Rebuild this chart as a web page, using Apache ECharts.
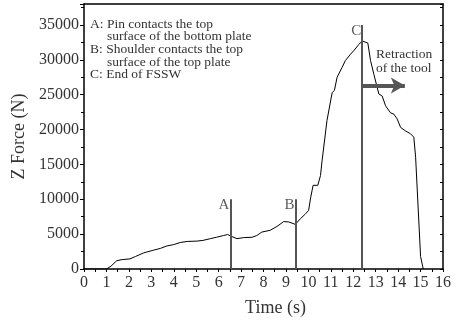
<!DOCTYPE html>
<html>
<head>
<meta charset="utf-8">
<script src="https://cdn.jsdelivr.net/npm/echarts@6/dist/echarts.min.js"></script>
<style>
  html, body { margin: 0; padding: 0; background: #fff; }
  #chart { width: 459px; height: 320px; }
</style>
</head>
<body>
<div id="chart"></div>
<script>
// time (s) and Z force (N)
var timeS = [0, 1.0, 1.2, 1.46, 1.7, 2.05, 2.3, 2.65, 3.1, 3.4, 3.69, 4.0, 4.29, 4.6, 5.03, 5.3, 5.63, 5.9, 6.22, 6.4, 6.52, 6.82, 7.11, 7.49, 7.7, 7.93, 8.3, 8.6, 8.9, 9.12, 9.42, 9.64, 9.87, 10.01, 10.1, 10.21, 10.42, 10.54, 10.61, 10.83, 11.06, 11.16, 11.28, 11.5, 11.65, 11.88, 12.02, 12.25, 12.4, 12.47, 12.65, 12.77, 12.92, 13.14, 13.29, 13.44, 13.66, 13.81, 13.96, 14.11, 14.33, 14.55, 14.7, 14.78, 15.0, 15.12]
var forceN = [0, 0, 400, 1190, 1350, 1450, 1800, 2300, 2700, 2950, 3300, 3500, 3800, 3950, 4000, 4100, 4350, 4550, 4800, 4950, 4750, 4350, 4500, 4550, 4800, 5300, 5550, 6100, 6800, 6750, 6400, 7200, 7900, 8400, 10200, 12000, 12000, 13400, 15500, 21300, 25300, 25600, 27500, 28900, 29900, 30800, 31300, 32200, 32700, 32700, 32400, 29900, 27900, 25100, 24800, 23400, 22400, 22200, 21500, 20300, 19800, 19400, 18900, 16000, 1800, 0]

// event markers A, B, C
var markerNames = ['A', 'B', 'C']
var markerTimes = [6.52, 9.43, 12.4]
var markerTops = [10000, 10000, 35000]

// retraction arrow
var arrowFrom = [12.4, 26300]
var arrowTo = [14.3, 26300]

var notes = [
  'A: Pin contacts the top',
  '     surface of the bottom plate',
  'B: Shoulder contacts the top',
  '     surface of the top plate',
  'C: End of FSSW'
]

var serif = 'Liberation Serif'
var txt = '#333'

var curve = timeS.map(function (t, i) { return [t, forceN[i]] })
var vlines = markerTimes.map(function (t, i) {
  return [{ coord: [t, 0] }, { coord: [t, markerTops[i]] }]
})
var labelPts = markerTimes.map(function (t, i) {
  return { name: markerNames[i], value: [t, markerTops[i]] }
})

var chart = echarts.init(document.getElementById('chart'))
var option = {
  animation: false,
  grid: { left: 84, right: 16, top: 4, bottom: 51, outerBoundsMode: 'none' },
  xAxis: [
    {
      type: 'value',
      min: 0,
      max: 16,
      interval: 1,
      name: 'Time (s)',
      nameLocation: 'middle',
      nameGap: 30,
      nameTextStyle: { fontFamily: serif, fontSize: 18, color: txt, padding: [0, 0, 0, 24] },
      axisLine: { lineStyle: { color: '#000', width: 1.5 } },
      axisTick: { length: 3, lineStyle: { color: '#000' } },
      minorTick: { show: true, splitNumber: 2, length: 3, lineStyle: { color: '#000' } },
      splitLine: { show: false },
      axisLabel: { fontFamily: serif, fontSize: 16, color: txt, margin: 6 }
    },
    {
      type: 'value',
      position: 'top',
      min: 0,
      max: 16,
      axisLine: { show: true, onZero: false, lineStyle: { color: '#000', width: 1.5 } },
      axisTick: { show: false },
      axisLabel: { show: false },
      splitLine: { show: false }
    }
  ],
  yAxis: [
    {
      type: 'value',
      min: 0,
      max: 38000,
      interval: 5000,
      name: 'Z Force (N)',
      nameLocation: 'middle',
      nameGap: 55,
      nameTextStyle: { fontFamily: serif, fontSize: 18, color: txt },
      axisLine: { show: true, lineStyle: { color: '#000', width: 1.5 } },
      axisTick: { show: true, length: 4, lineStyle: { color: '#000' } },
      minorTick: { show: true, splitNumber: 2, length: 3, lineStyle: { color: '#000' } },
      splitLine: { show: false },
      axisLabel: {
        fontFamily: serif, fontSize: 16, color: txt, margin: 5,
        formatter: function (v) { return v % 5000 === 0 ? String(v) : '' }
      }
    },
    {
      type: 'value',
      position: 'right',
      min: 0,
      max: 38000,
      interval: 2500,
      axisLine: { show: true, onZero: false, lineStyle: { color: '#000', width: 1.5 } },
      axisTick: { show: true, inside: true, length: 3, lineStyle: { color: '#000' } },
      axisLabel: { show: false },
      splitLine: { show: false }
    }
  ],
  series: [
    {
      type: 'line',
      data: curve,
      showSymbol: false,
      lineStyle: { color: '#000', width: 1 },
      markLine: {
        silent: true,
        symbol: ['none', 'none'],
        label: { show: false },
        lineStyle: { color: '#555', width: 2, type: 'solid' },
        data: vlines
      },
      z: 3
    },
    {
      type: 'scatter',
      data: labelPts,
      symbolSize: 0,
      label: {
        show: true,
        position: 'left',
        distance: 1,
        offset: [0, 6],
        formatter: '{b}',
        fontFamily: serif,
        fontSize: 15,
        color: txt
      }
    },
    {
      type: 'line',
      data: [],
      markLine: {
        silent: true,
        symbol: ['none', 'arrow'],
        symbolSize: [12, 14],
        label: { show: false },
        lineStyle: { color: '#555', width: 4, type: 'solid' },
        data: [[{ coord: arrowFrom }, { coord: arrowTo }]]
      }
    }
  ],
  graphic: [
    {
      type: 'text',
      left: 90,
      top: 17,
      style: {
        text: notes.join('\n'),
        font: '13.5px "Liberation Serif"',
        lineHeight: 12.7,
        fill: txt
      }
    },
    {
      type: 'text',
      left: 376,
      top: 47,
      style: {
        text: 'Retraction\nof the tool',
        font: '13.5px "Liberation Serif"',
        lineHeight: 14,
        align: 'center',
        fill: txt
      }
    }
  ]
}
option && chart.setOption(option)
</script>
</body>
</html>
